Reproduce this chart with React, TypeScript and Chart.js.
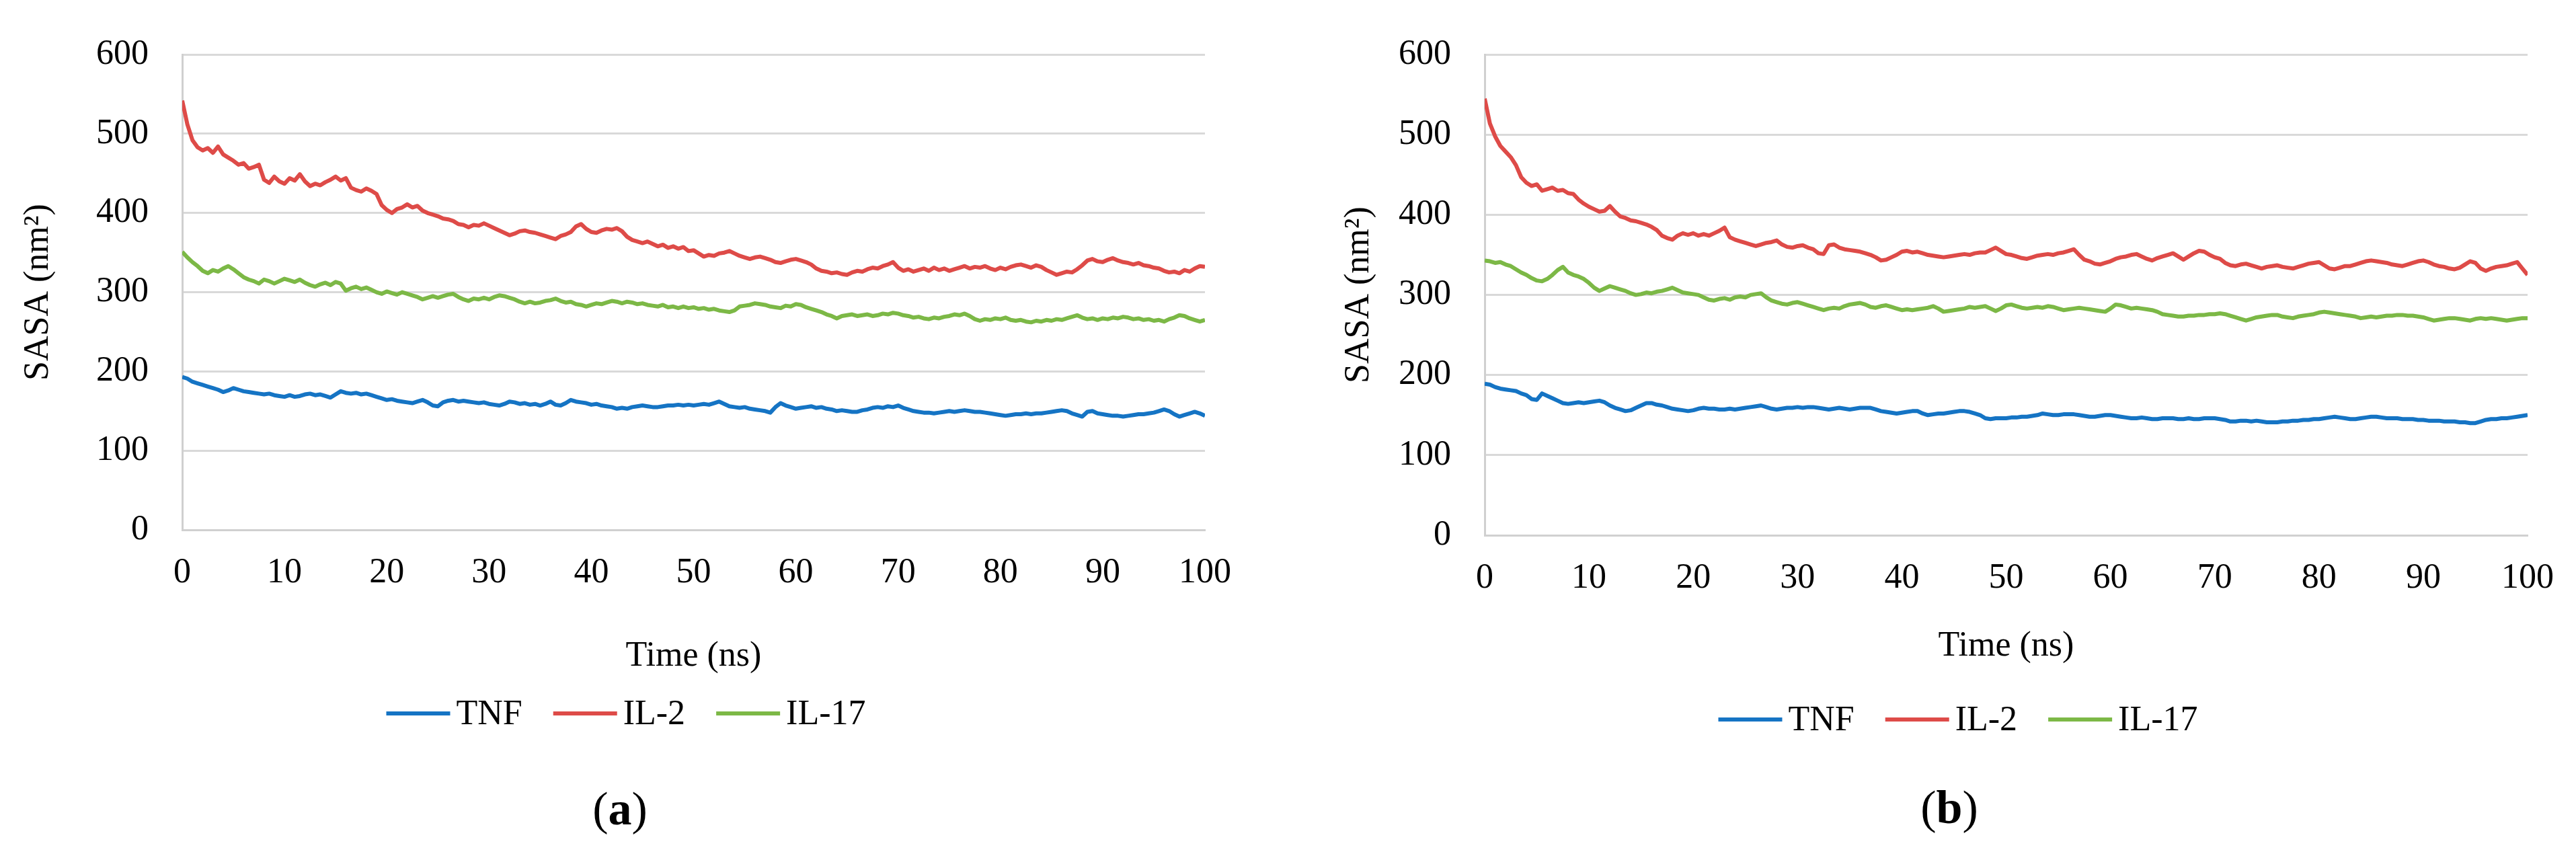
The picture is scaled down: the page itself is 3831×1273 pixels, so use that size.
import React, { useEffect, useRef } from "react";
import { Chart, registerables } from "chart.js";

Chart.register(...registerables);

const FONT_FAMILY = "'Liberation Serif', 'Times New Roman', 'DejaVu Serif', serif";
const FONT_PX = 52;
const CAPTION_PX = 70;

// sampling interval of the trajectories (ns)
const TIME_STEP_NS = 0.5;

const X_TICKS = [0, 10, 20, 30, 40, 50, 60, 70, 80, 90, 100];
const Y_TICKS = [0, 100, 200, 300, 400, 500, 600];
const X_TITLE = "Time (ns)";
const Y_TITLE = "SASA (nm²)";

const SERIES_LABELS = ["TNF", "IL-2", "IL-17"];
const SERIES_COLORS = ["#1574C4", "#DE4B48", "#7CB846"];

// ---------- panel (a) ----------
const TNF_A = [
  193, 191, 187, 185, 183, 181, 179, 177, 174, 176,
  179, 177, 175, 174, 173, 172, 171, 172, 170, 169,
  168, 170, 168, 169, 171, 172, 170, 171, 169, 167,
  171, 175, 173, 172, 173, 171, 172, 170, 168, 166,
  164, 165, 163, 162, 161, 160, 162, 164, 161, 157,
  156, 161, 163, 164, 162, 163, 162, 161, 160, 161,
  159, 158, 157, 159, 162, 161, 159, 160, 158, 159,
  157, 159, 162, 158, 157, 160, 164, 162, 161, 160,
  158, 159, 157, 156, 155, 153, 154, 153, 155, 156,
  157, 156, 155, 155, 156, 157, 157, 158, 157, 158,
  157, 158, 159, 158, 160, 162, 159, 156, 155, 154,
  155, 153, 152, 151, 150, 148, 155, 160, 157, 155,
  153, 154, 155, 156, 154, 155, 153, 152, 150, 151,
  150, 149, 149, 151, 152, 154, 155, 154, 156, 155,
  157, 154, 152, 150, 149, 148, 148, 147, 148, 149,
  150, 149, 150, 151, 150, 149, 149, 148, 147, 146,
  145, 144, 145, 146, 146, 147, 146, 147, 147, 148,
  149, 150, 151, 150, 147, 145, 143, 149, 150, 147,
  146, 145, 144, 144, 143, 144, 145, 146, 146, 147,
  148, 150, 152, 150, 146, 143, 145, 147, 149, 147,
  144,
];

const IL2_A = [
  542, 512, 492, 483, 479, 482, 476, 484, 474, 470,
  466, 461, 463, 456, 458, 461, 442, 438, 446, 440,
  437, 444, 441, 449, 440, 434, 437, 435, 439, 442,
  446, 441, 444, 432, 429, 427, 431, 428, 424, 410,
  404, 400, 405, 407, 411, 407, 409, 403, 400, 398,
  396, 393, 392, 390, 386, 385, 382, 385, 384, 387,
  384, 381, 378, 375, 372, 374, 377, 378, 376, 375,
  373, 371, 369, 367, 371, 373, 376, 383, 386, 380,
  376, 375, 378, 380, 379, 381, 377, 370, 366, 364,
  362, 364, 361, 358, 360, 356, 358, 355, 357, 352,
  353, 349, 345, 347, 346, 349, 350, 352, 349, 346,
  344, 342, 344, 345, 343, 341, 338, 337, 339, 341,
  342, 340, 338, 335, 330, 327, 326, 324, 325, 323,
  322, 325, 327, 326, 329, 331, 330, 333, 335, 338,
  331, 327, 329, 326, 328, 330, 327, 331, 328, 330,
  327, 329, 331, 333, 330, 332, 331, 333, 330, 328,
  331, 329, 332, 334, 335, 333, 331, 334, 332, 328,
  325, 322, 324, 326, 325, 329, 334, 340, 342, 339,
  338, 341, 343, 340, 338, 337, 335, 337, 334, 333,
  331, 330, 327, 325, 326, 324, 328, 326, 330, 333,
  332,
];

const IL17_A = [
  351, 344, 338, 333, 327, 324, 328, 326, 330, 333,
  329, 324, 319, 316, 314, 311, 316, 314, 311, 314,
  317, 315, 313, 316, 312, 309, 307, 310, 312, 309,
  313, 311, 302, 305, 307, 304, 306, 303, 300, 298,
  301, 299, 297, 300, 298, 296, 294, 291, 293, 295,
  293, 295, 297, 298, 294, 291, 289, 292, 291, 293,
  291, 294, 296, 295, 293, 291, 288, 286, 288, 286,
  287, 289, 290, 292, 289, 287, 288, 285, 284, 282,
  284, 286, 285, 287, 289, 288, 286, 288, 287, 285,
  286, 284, 283, 282, 284, 281, 282, 280, 282, 280,
  281, 279, 280, 278, 279, 277, 276, 275, 277, 282,
  283, 284, 286, 285, 284, 282, 281, 280, 283, 282,
  285, 284, 281, 279, 277, 275, 272, 270, 267, 270,
  271, 272, 270, 271, 272, 270, 271, 273, 272, 274,
  273, 271, 270, 268, 269, 267, 266, 268, 267, 269,
  270, 272, 271, 273, 270, 266, 264, 266, 265, 267,
  266, 268, 265, 264, 265, 263, 262, 264, 263, 265,
  264, 266, 265, 267, 269, 271, 268, 266, 267, 265,
  267, 266, 268, 267, 269, 268, 266, 267, 265, 266,
  264, 265, 263, 266, 268, 271, 270, 267, 265, 263,
  265,
];

// ---------- panel (b) ----------
const TNF_B = [
  189, 188, 185, 183, 182, 181, 180, 177, 175, 170,
  169, 177, 174, 171, 168, 165, 164, 165, 166, 165,
  166, 167, 168, 166, 162, 159, 157, 155, 156, 159,
  162, 165, 165, 163, 162, 160, 158, 157, 156, 155,
  156, 158, 159, 158, 158, 157, 157, 158, 157, 158,
  159, 160, 161, 162, 160, 158, 157, 158, 159, 159,
  160, 159, 160, 160, 159, 158, 157, 158, 159, 158,
  157, 158, 159, 159, 159, 157, 155, 154, 153, 152,
  153, 154, 155, 155, 152, 150, 151, 152, 152, 153,
  154, 155, 155, 154, 152, 150, 146, 145, 146, 146,
  146, 147, 147, 148, 148, 149, 150, 152, 151, 150,
  150, 151, 151, 151, 150, 149, 148, 148, 149, 150,
  150, 149, 148, 147, 146, 146, 147, 146, 145, 145,
  146, 146, 146, 145, 145, 146, 145, 145, 146, 146,
  146, 145, 144, 142, 142, 143, 143, 142, 143, 142,
  141, 141, 141, 142, 142, 143, 143, 144, 144, 145,
  145, 146, 147, 148, 147, 146, 145, 145, 146, 147,
  148, 148, 147, 146, 146, 146, 145, 145, 145, 144,
  144, 143, 143, 143, 142, 142, 142, 141, 141, 140,
  140, 142, 144, 145, 145, 146, 146, 147, 148, 149,
  150,
];

const IL2_B = [
  545, 514, 498, 486, 479, 472, 462, 447, 440, 436,
  438, 430, 432, 434, 430, 431, 427, 426, 419, 414,
  410, 407, 404, 405, 411, 404, 398, 396, 393, 392,
  390, 388, 385, 381, 374, 371, 369, 374, 377, 375,
  377, 374, 376, 374, 377, 380, 384, 372, 369, 367,
  365, 363, 361, 363, 365, 366, 368, 363, 360, 359,
  361, 362, 359, 357, 352, 351, 362, 363, 359, 357,
  356, 355, 354, 352, 350, 347, 343, 344, 347, 350,
  354, 355, 353, 354, 352, 350, 349, 348, 347, 348,
  349, 350, 351, 350, 352, 353, 353, 356, 359, 355,
  351, 350, 348, 346, 345, 347, 349, 350, 351, 350,
  352, 353, 355, 357, 350, 344, 342, 339, 338, 340,
  342, 345, 347, 348, 350, 351, 348, 345, 343, 346,
  348, 350, 352, 348, 344, 348, 352, 355, 354, 350,
  347, 345, 340, 337, 336, 338, 339, 337, 335, 333,
  335, 336, 337, 335, 334, 333, 335, 337, 339, 340,
  341, 337, 333, 332, 334, 336, 336, 338, 340, 342,
  343, 342, 341, 340, 338, 337, 336, 338, 340, 342,
  343, 341, 338, 336, 335, 333, 332, 334, 338, 342,
  340, 333, 330, 333, 335, 336, 337, 339, 341, 333,
  325,
];

const IL17_B = [
  343, 342, 340, 341, 338, 336, 332, 328, 325, 321,
  318, 317, 320, 325, 331, 335, 328, 325, 323, 320,
  315, 309, 305, 308, 311, 309, 307, 305, 302, 300,
  301, 303, 302, 304, 305, 307, 309, 306, 303, 302,
  301, 300, 297, 294, 293, 295, 296, 294, 297, 298,
  297, 300, 301, 302, 297, 293, 291, 289, 288, 290,
  291, 289, 287, 285, 283, 281, 283, 284, 283, 286,
  288, 289, 290, 288, 285, 284, 286, 287, 285, 283,
  281, 282, 281, 282, 283, 284, 286, 283, 279, 280,
  281, 282, 283, 285, 284, 285, 286, 283, 280, 283,
  287, 288, 286, 284, 283, 284, 285, 284, 286, 285,
  283, 281, 282, 283, 284, 283, 282, 281, 280, 279,
  283, 288, 287, 285, 283, 284, 283, 282, 281, 279,
  276, 275, 274, 273, 273, 274, 274, 275, 275, 276,
  276, 277, 276, 274, 272, 270, 268, 270, 272, 273,
  274, 275, 275, 273, 272, 271, 273, 274, 275, 276,
  278, 279, 278, 277, 276, 275, 274, 273, 271, 272,
  273, 272, 273, 274, 274, 275, 275, 274, 274, 273,
  272, 270, 268, 269, 270, 271, 271, 270, 269, 268,
  270, 271, 270, 271, 270, 269, 268, 269, 270, 271,
  271,
];

type PanelLayout = {
  canvasLeft: number;
  width: number;
  height: number;
  plotLeft: number;
  plotRight: number;
  plotTop: number;
  plotBottom: number;
  xTickPad: number;
  xTitleY: number;
  yTitleX: number;
  yTickPad: number;
  legendX: number;
  legendY: number;
  captionX: number;
  captionY: number;
};

const LAYOUT_A: PanelLayout = {
  canvasLeft: 0, width: 1915, height: 1273,
  plotLeft: 271, plotRight: 1792, plotTop: 59, plotBottom: 788,
  xTickPad: 33, xTitleY: 976, yTitleX: 57, yTickPad: 50,
  legendX: 931, legendY: 1061, captionX: 922, captionY: 1208,
};

const LAYOUT_B: PanelLayout = {
  canvasLeft: 1915, width: 1916, height: 1273,
  plotLeft: 293, plotRight: 1856, plotTop: 45, plotBottom: 796,
  xTickPad: 33, xTitleY: 961, yTitleX: 106, yTickPad: 50,
  legendX: 997, legendY: 1070, captionX: 984, captionY: 1206,
};

const decorPlugin = {
  id: "panelDecor",
  afterDraw(chart: any, _args: any, opts: any) {
    const ctx = chart.ctx as CanvasRenderingContext2D;
    ctx.save();
    // legend
    ctx.font = `${FONT_PX}px ${FONT_FAMILY}`;
    ctx.textBaseline = "middle";
    ctx.textAlign = "left";
    const lineLen = 95;
    const gapLine = 9;
    const gapItem = 46;
    const ds = chart.data.datasets;
    const widths = ds.map((d: any) => lineLen + gapLine + ctx.measureText(d.label).width);
    const total = widths.reduce((a: number, b: number) => a + b, 0) + gapItem * (ds.length - 1);
    let x = opts.legendX - total / 2;
    ds.forEach((d: any, i: number) => {
      ctx.strokeStyle = d.borderColor;
      ctx.lineWidth = 6;
      ctx.lineCap = "butt";
      ctx.beginPath();
      ctx.moveTo(x, opts.legendY);
      ctx.lineTo(x + lineLen, opts.legendY);
      ctx.stroke();
      ctx.fillStyle = "#000";
      ctx.fillText(d.label, x + lineLen + gapLine, opts.legendY + 2);
      x += widths[i] + gapItem;
    });
    // caption "(a)" with bold letter
    const normal = `${CAPTION_PX}px ${FONT_FAMILY}`;
    const bold = `bold ${CAPTION_PX}px ${FONT_FAMILY}`;
    ctx.font = normal;
    const wp = ctx.measureText("(").width;
    const wc = ctx.measureText(")").width;
    ctx.font = bold;
    const wl = ctx.measureText(opts.caption).width;
    let cx = opts.captionX - (wp + wl + wc) / 2;
    ctx.fillStyle = "#000";
    ctx.font = normal;
    ctx.fillText("(", cx, opts.captionY);
    cx += wp;
    ctx.font = bold;
    ctx.fillText(opts.caption, cx, opts.captionY);
    cx += wl;
    ctx.font = normal;
    ctx.fillText(")", cx, opts.captionY);
    ctx.restore();
  },
};

function Panel({ layout, series, caption }: { layout: PanelLayout; series: number[][]; caption: string }) {
  const ref = useRef<HTMLCanvasElement>(null);
  useEffect(() => {
    const canvas = ref.current;
    if (!canvas) return;
    const font = { family: FONT_FAMILY, size: FONT_PX, lineHeight: 1.2 };
    const halfLine = (FONT_PX * 1.2) / 2;
    const xScaleBottom = layout.xTitleY + halfLine;
    const chart = new Chart(canvas, {
      type: "line",
      data: {
        datasets: series.map((vals, k) => ({
          label: SERIES_LABELS[k],
          data: vals.map((v, i) => ({ x: i * TIME_STEP_NS, y: v })),
          borderColor: SERIES_COLORS[k],
          backgroundColor: SERIES_COLORS[k],
          borderWidth: 6,
          pointRadius: 0,
          tension: 0,
          fill: false,
          borderJoinStyle: "round" as const,
        })),
      },
      options: {
        responsive: false,
        animation: false,
        events: [],
        layout: {
          padding: {
            left: 0,
            top: layout.plotTop,
            right: layout.width - layout.plotRight,
            bottom: layout.height - xScaleBottom,
          },
        },
        plugins: {
          legend: { display: false },
          tooltip: { enabled: false },
          title: { display: false },
          panelDecor: {
            legendX: layout.legendX,
            legendY: layout.legendY,
            captionX: layout.captionX,
            captionY: layout.captionY,
            caption,
          },
        } as any,
        scales: {
          x: {
            type: "linear",
            min: X_TICKS[0],
            max: X_TICKS[X_TICKS.length - 1],
            afterBuildTicks: (scale: any) => {
              scale.ticks = X_TICKS.map((v) => ({ value: v }));
            },
            afterFit: (scale: any) => {
              scale.height = xScaleBottom - layout.plotBottom;
            },
            grid: { display: false, drawTicks: false },
            border: { display: true, color: "#d0d0d0", width: 3 },
            ticks: {
              padding: layout.xTickPad,
              font,
              color: "#000",
              maxRotation: 0,
              autoSkip: false,
            },
            title: {
              display: true,
              text: X_TITLE,
              font,
              color: "#000",
              padding: { top: 0, bottom: 0 },
            },
          },
          y: {
            type: "linear",
            min: Y_TICKS[0],
            max: Y_TICKS[Y_TICKS.length - 1],
            afterBuildTicks: (scale: any) => {
              scale.ticks = Y_TICKS.map((v) => ({ value: v }));
            },
            afterFit: (scale: any) => {
              scale.width = layout.plotLeft;
            },
            grid: { display: true, drawTicks: false, color: "#d9d9d9", lineWidth: 3 },
            border: { display: true, color: "#d0d0d0", width: 3 },
            ticks: { padding: layout.yTickPad, font, color: "#000" },
            title: {
              display: true,
              text: Y_TITLE,
              font,
              color: "#000",
              padding: { top: layout.yTitleX - halfLine, bottom: 0 },
            },
          },
        },
      },
      plugins: [decorPlugin],
    } as any);
    return () => chart.destroy();
  }, [layout, series, caption]);

  return (
    <canvas
      ref={ref}
      width={layout.width}
      height={layout.height}
      style={{
        position: "absolute",
        left: layout.canvasLeft,
        top: 0,
        width: layout.width,
        height: layout.height,
      }}
    />
  );
}

const SERIES_A = [TNF_A, IL2_A, IL17_A];
const SERIES_B = [TNF_B, IL2_B, IL17_B];

export default function App() {
  return (
    <div
      style={{
        position: "absolute",
        left: 0,
        top: 0,
        width: 3831,
        height: 1273,
        background: "#ffffff",
        overflow: "hidden",
      }}
    >
      <Panel layout={LAYOUT_A} series={SERIES_A} caption="a" />
      <Panel layout={LAYOUT_B} series={SERIES_B} caption="b" />
    </div>
  );
}
